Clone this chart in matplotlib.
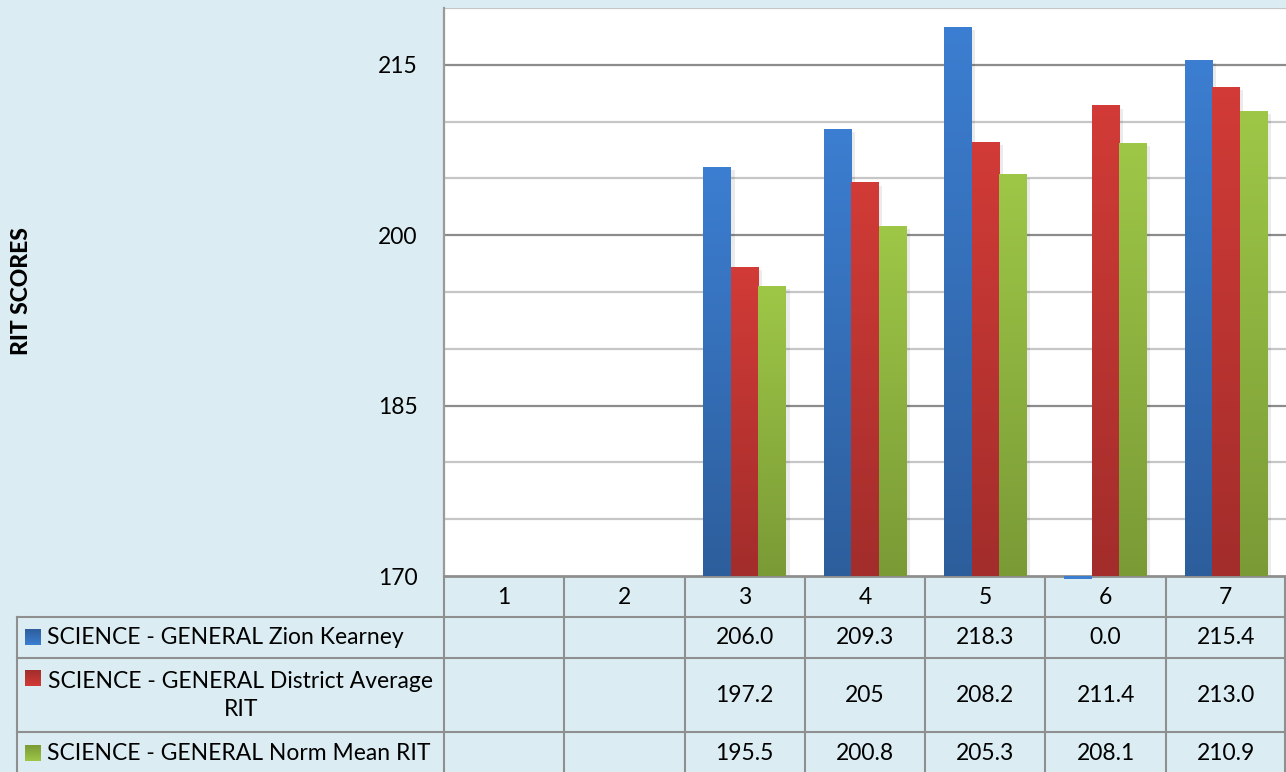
import matplotlib
matplotlib.use('Agg')
import matplotlib.pyplot as plt
import numpy as np
from matplotlib.patches import Rectangle
from matplotlib.colors import LinearSegmentedColormap

plt.rcParams['font.family'] = ['Lato', 'DejaVu Sans']

# ---------------- data ----------------
categories = ['1', '2', '3', '4', '5', '6', '7']
series_names = ['SCIENCE - GENERAL Zion Kearney',
                'SCIENCE - GENERAL District Average\nRIT',
                'SCIENCE - GENERAL Norm Mean RIT']
zion = [np.nan, np.nan, 206.0, 209.3, 218.3, 0.0, 215.4]
district = [np.nan, np.nan, 197.2, 204.6, 208.2, 211.4, 213.0]
norm = [np.nan, np.nan, 195.5, 200.8, 205.3, 208.1, 210.9]
zion_text = ['', '', '206.0', '209.3', '218.3', '0.0', '215.4']
district_text = ['', '', '197.2', '205', '208.2', '211.4', '213.0']
norm_text = ['', '', '195.5', '200.8', '205.3', '208.1', '210.9']
y_ticks = [170, 185, 200, 215]
y_min, y_max, y_step = 170, 220, 5
y_label = 'RIT SCORES'

# ---------------- style ----------------
W, H = 1286, 772
BG = '#DBEDF3'
GRID_MAJOR = '#8c8c8c'
GRID_MINOR = '#c6c6c6'
LINE = '#8f8f8f'
FS = 16.5
colors = [('#3C7ED1', '#2D5E9C'),   # (top, bottom)
          ('#D23B37', '#A22D2B'),
          ('#9EC747', '#7A9A36')]

fig = plt.figure(figsize=(W / 100, H / 100), dpi=100)
fig.patch.set_facecolor(BG)


def box(x0, y0, x1, y1):
    return [x0 / W, 1 - y1 / H, (x1 - x0) / W, (y1 - y0) / H]


# table / background axes in pixel coordinates
tax = fig.add_axes([0, 0, 1, 1], zorder=0)
tax.set_xlim(0, W)
tax.set_ylim(H, 0)
tax.axis('off')

PL, PT, PR, PB = 444, 8, 1286, 576
ax = fig.add_axes(box(PL, PT, PR, PB), zorder=1)
ax.set_facecolor('white')
ax.set_xlim(-0.5, len(categories) - 0.5)
ax.set_ylim(y_min, y_max)

for y in np.arange(y_min + y_step, y_max + 0.1, y_step):
    major = y in y_ticks
    ax.axhline(y, color=GRID_MAJOR if major else GRID_MINOR, lw=1.6, zorder=1)

for s in ['top', 'right']:
    ax.spines[s].set_visible(False)
ax.spines['left'].set_color('#9a9a9a')
ax.spines['left'].set_linewidth(1.6)
ax.spines['bottom'].set_color(LINE)
ax.spines['bottom'].set_linewidth(2)
ax.set_xticks([])
ax.set_yticks(y_ticks)
ax.set_yticklabels([str(t) for t in y_ticks], fontsize=FS)
ax.tick_params(axis='y', length=0, pad=19)

grad = np.linspace(0, 1, 256).reshape(-1, 1)
cmaps = [LinearSegmentedColormap.from_list('c%d' % i, [b, t]) for i, (t, b) in enumerate(colors)]

bw = 0.229
all_series = [zion, district, norm]
for i, vals in enumerate(all_series):
    off = (i - 1) * bw
    for j, v in enumerate(vals):
        if np.isnan(v):
            continue
        x0 = j + off - bw / 2
        if v >= y_min:
            ax.add_patch(Rectangle((x0 + 0.03, y_min), bw, v - y_min - 0.25,
                                   facecolor='black', alpha=0.08, lw=0, zorder=2))
            ax.imshow(grad, extent=(x0, x0 + bw, y_min, v), origin='lower',
                      cmap=cmaps[i], aspect='auto', zorder=3 + i * 0.01)
        else:
            # value below axis minimum: Excel shows a small stub under the axis
            ax.add_patch(Rectangle((x0, y_min - 0.25), bw, 0.25,
                                   facecolor=colors[i][0], lw=0, zorder=5, clip_on=False))
ax.set_xlim(-0.5, len(categories) - 0.5)
ax.set_ylim(y_min, y_max)

fig.text(22 / W, 1 - 291 / H, y_label, rotation=90, fontsize=16.5, fontweight='black',
         ha='center', va='center')

# ---------------- data table ----------------
n = len(categories)
col_x = [PL + (PR - PL) * k / n for k in range(n + 1)]
rows_y = [PB, 617, 658, 732, H + 5]
LEFT = 17
lw_t = 1.5
for k, x in enumerate(col_x):
    xx = min(x, W - 1)
    tax.plot([xx, xx], [PB, H + 5], color=LINE, lw=lw_t, solid_capstyle='butt')
tax.plot([LEFT, LEFT], [rows_y[1], H + 5], color=LINE, lw=lw_t)
for y in rows_y[1:4]:
    tax.plot([LEFT, W], [y, y], color=LINE, lw=lw_t)

for k, c in enumerate(categories):
    tax.text((col_x[k] + col_x[k + 1]) / 2, (rows_y[0] + rows_y[1]) / 2 + 1, c,
             fontsize=FS, ha='center', va='center')

texts = [zion_text, district_text, norm_text]
key_y = [637, 678.5, 753]
for r in range(3):
    yc = (rows_y[r + 1] + rows_y[r + 2]) / 2
    if r == 2:
        yc = 753
    for k in range(n):
        if texts[r][k]:
            tax.text((col_x[k] + col_x[k + 1]) / 2, yc, texts[r][k],
                     fontsize=FS, ha='center', va='center')
    # legend key with gradient
    ky = key_y[r]
    tax.imshow(grad, extent=(25, 41, ky + 8, ky - 8), origin='upper',
               cmap=cmaps[r], aspect='auto', zorder=3)
    if '\n' in series_names[r]:
        tax.text(241, (ky + 712.5) / 2, series_names[r], fontsize=FS, ha='center',
                 va='center', multialignment='center', linespacing=1.45)
    else:
        tax.text(47, ky, series_names[r], fontsize=FS, ha='left', va='center')
tax.set_xlim(0, W)
tax.set_ylim(H, 0)

fig.savefig('out.png', dpi=100, facecolor=BG)
